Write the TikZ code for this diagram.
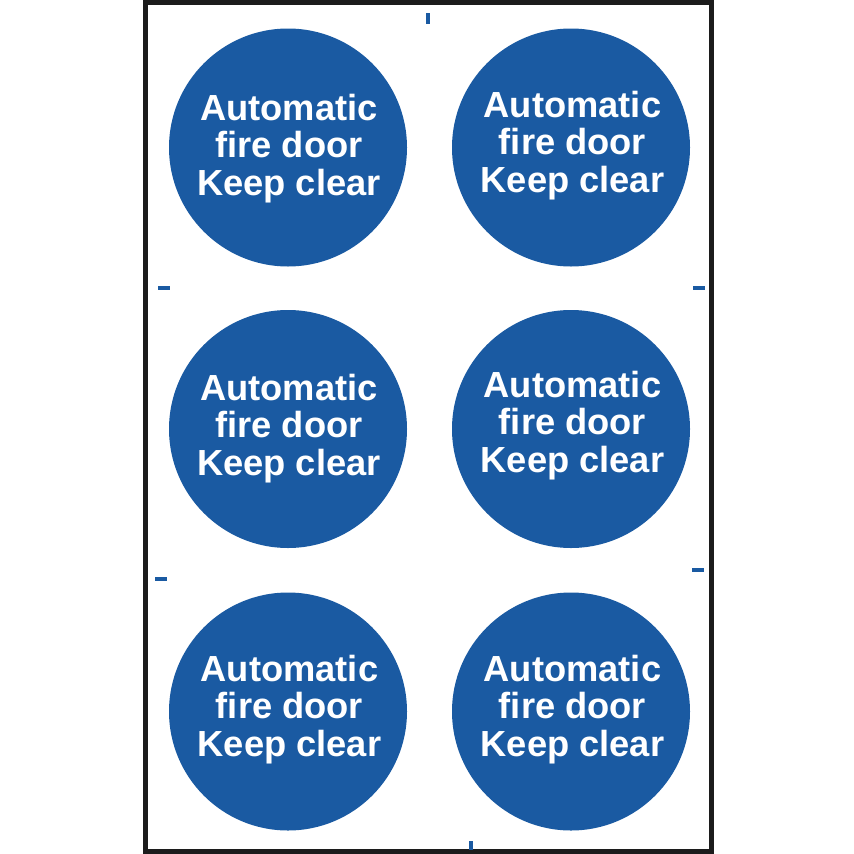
\documentclass[tikz,border=0pt]{standalone}
\usepackage{fontspec}
\setmainfont{Liberation Sans}
\definecolor{signblue}{HTML}{1A5AA2}
\definecolor{frameblack}{HTML}{1C1C1C}
\tikzset{
	sign/.style={circle, fill=signblue, minimum size=238pt, inner sep=0pt},
	signtext/.style={text=white, align=center, font=\fontsize{36.3pt}{37.5pt}\selectfont\bfseries},
	cutmark/.style={draw=signblue, line width=4.5pt}
}

\begin{document}
\begin{tikzpicture}[x=1pt, y=-1pt]
	\useasboundingbox (0,0) rectangle (854,854);
	\draw[frameblack, line width=5pt] (145.5,2.2) rectangle (711,851);
	% signs: name / centre x / centre y / text x / text y
	\foreach \nm/\cx/\cy/\tx/\ty in {a/288/147.5/289/148.5, b/571/147.5/572.5/145.5, c/288/429/289/428.5, d/571/429/572.5/425.5, e/288/711.5/289.5/709.5, f/571/711.5/572.5/709.5}{
		\node[sign] (sign\nm) at (\cx,\cy) {};
		\node[signtext] (text\nm) at (\tx,\ty) {Automatic\\fire door\\Keep clear};
	}
	% cut marks
	\draw[cutmark] (428,13) -- (428,24);
	\draw[cutmark] (158,288) -- (170,288);
	\draw[cutmark] (693,288) -- (705,288);
	\draw[cutmark] (155,579) -- (167,579);
	\draw[cutmark] (692,570) -- (704,570);
	\draw[cutmark] (471,841) -- (471,850);
\end{tikzpicture}
\end{document}
